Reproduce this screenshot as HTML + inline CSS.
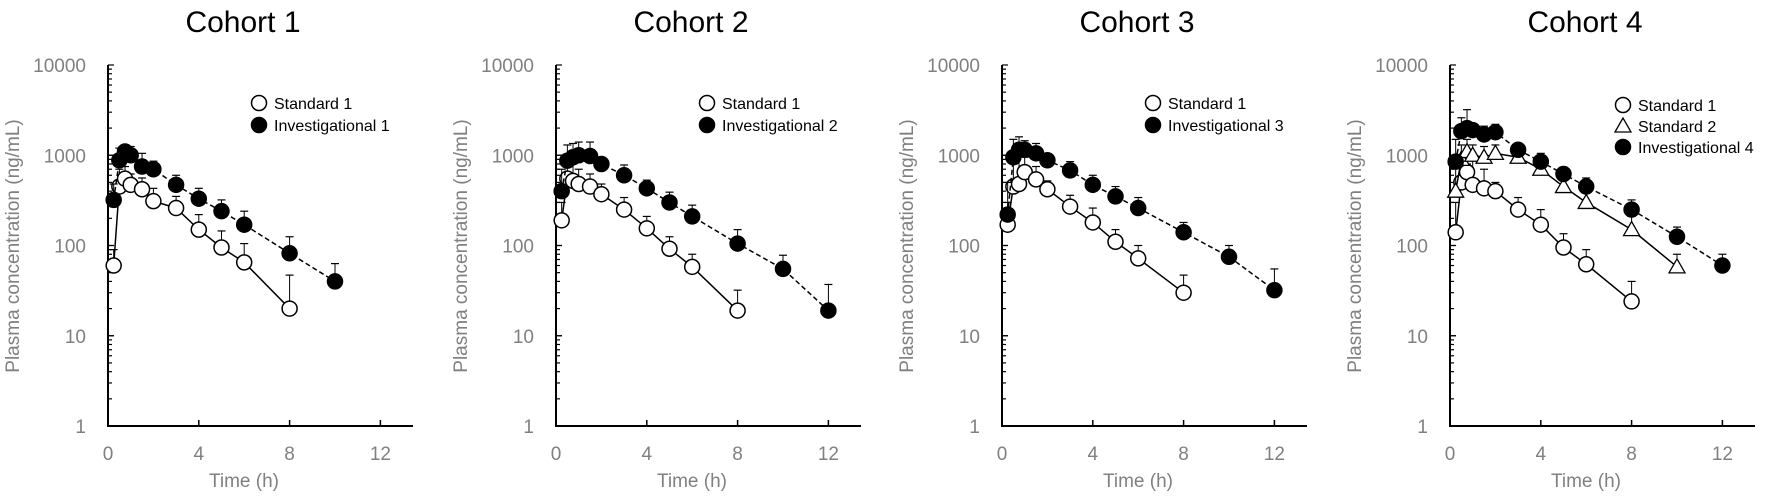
<!DOCTYPE html>
<html><head><meta charset="utf-8"><style>
html,body{margin:0;padding:0;background:#fff;}
svg{display:block;font-family:"Liberation Sans",Arial,sans-serif;}
</style></head><body>
<svg id="fig" width="1772" height="496" viewBox="0 0 1772 496"></svg>
<script>
const times = [0.25,0.5,0.75,1,1.5,2,3,4,5,6,8,10,12];
const xTicks = [0,4,8,12];
const yTicks = [1,10,100,1000,10000];
const cohortTitles = ["Cohort 1","Cohort 2","Cohort 3","Cohort 4"];
// cohort 1
const c1Std = [60,450,550,470,420,310,260,150,95,65,20];
const c1StdErr = [90,700,750,620,560,430,350,220,145,105,47];
const c1Inv = [320,880,1100,1000,750,700,470,330,240,170,82,40];
const c1InvErr = [480,1200,1300,1250,1050,860,600,430,320,240,125,63];
// cohort 2
const c2Std = [190,550,520,480,450,370,250,155,92,58,19];
const c2StdErr = [300,800,1000,700,620,480,340,210,125,80,32];
const c2Inv = [400,870,950,1000,980,800,600,430,300,210,105,55,19];
const c2InvErr = [700,1300,1350,1400,1400,950,780,530,390,280,150,78,37];
// cohort 3
const c3Std = [170,450,480,650,540,420,270,180,110,72,30];
const c3StdErr = [300,800,1000,950,750,520,360,260,150,100,47];
const c3Inv = [220,950,1150,1150,1050,880,680,470,350,260,140,75,32];
const c3InvErr = [500,1500,1600,1450,1350,1000,850,600,450,340,180,100,55];
// cohort 4
const c4Std1 = [140,500,650,470,430,400,250,170,95,62,24];
const c4Std1Err = [300,900,800,900,700,500,340,250,135,90,40];
const c4Std2 = [400,900,1100,1000,950,1050,950,700,450,300,150,58];
const c4Std2Err = [800,1300,1500,1300,1250,1300,1150,900,600,400,210,80];
const c4Inv = [850,1850,2000,1900,1700,1800,1150,850,620,450,250,125,60];
const c4InvErr = [1500,2600,3200,2200,2100,2200,1350,1050,740,560,320,160,80];

const panels = [
  {title:cohortTitles[0], series:[{n:"Standard 1",v:c1Std,e:c1StdErr,m:"open",d:false},{n:"Investigational 1",v:c1Inv,e:c1InvErr,m:"filled",d:true}]},
  {title:cohortTitles[1], series:[{n:"Standard 1",v:c2Std,e:c2StdErr,m:"open",d:false},{n:"Investigational 2",v:c2Inv,e:c2InvErr,m:"filled",d:true}]},
  {title:cohortTitles[2], series:[{n:"Standard 1",v:c3Std,e:c3StdErr,m:"open",d:false},{n:"Investigational 3",v:c3Inv,e:c3InvErr,m:"filled",d:true}]},
  {title:cohortTitles[3], series:[{n:"Standard 1",v:c4Std1,e:c4Std1Err,m:"open",d:false},{n:"Standard 2",v:c4Std2,e:c4Std2Err,m:"tri",d:false},{n:"Investigational 4",v:c4Inv,e:c4InvErr,m:"filled",d:true}]}
];
const origins = [108,556,1002,1450];
const NS = "http://www.w3.org/2000/svg";
const svg = document.getElementById("fig");
function mk(tag, attrs, parent, text){
  const el = document.createElementNS(NS, tag);
  for (const k in attrs) el.setAttribute(k, attrs[k]);
  if (text !== undefined) el.textContent = text;
  parent.appendChild(el);
  return el;
}
const yTop = 65, yBot = 426, pxH = 22.7;
function yS(v){ return yBot - (Math.log10(v)) * (yBot - yTop) / 4; }
function drawMarker(g, kind, cx, cy){
  let el;
  if (kind === "tri") {
    el = mk("polygon",{points:`${cx},${cy-8} ${cx-8},${cy+6} ${cx+8},${cy+6}`,fill:"#fff",stroke:"#000","stroke-width":1.3},g);
  } else {
    el = mk("circle",{cx:cx,cy:cy,r:7.5,fill:kind==="filled"?"#000":"#fff",stroke:"#000","stroke-width":1.5},g);
  }
  return el;
}
panels.forEach((p, pi) => {
  const ox = origins[pi];
  const xS = t => ox + t * pxH;
  const g = mk("g",{},svg);
  
  
  const title = mk("text",{x:ox+135,y:32,"font-size":30,"text-anchor":"middle",fill:"#000"},g,p.title);
  
  
  const ax = mk("path",{d:`M${ox},${yTop} V${yBot} H${ox+305}`,stroke:"#000","stroke-width":2,fill:"none"},g);
  
  
  for (let dec=0; dec<4; dec++){
    for (let k=1; k<=10; k++){
      const v = Math.pow(10,dec)*k;
      const y = yS(v);
      mk("line",{x1:ox,x2:ox+(k===1||k===10?6:4),y1:y,y2:y,stroke:"#000","stroke-width":1.2},g);
    }
  }
  yTicks.forEach(v => {
    const t = mk("text",{x:ox-22,y:yS(v)+7,"font-size":19,"text-anchor":"end",fill:"#808080"},g,String(v));
    
    
  });
  xTicks.forEach(v => {
    if (v>0) mk("line",{x1:xS(v),x2:xS(v),y1:yBot,y2:yBot-6,stroke:"#000","stroke-width":1.5},g);
    const t = mk("text",{x:xS(v),y:460,"font-size":19,"text-anchor":"middle",fill:"#808080"},g,String(v));
    
    
  });
  const xl = mk("text",{x:ox+136,y:487,"font-size":19,"text-anchor":"middle",fill:"#808080"},g,"Time (h)");
  
  
  const yl = mk("text",{x:0,y:0,"font-size":19,"text-anchor":"middle",fill:"#808080",transform:`translate(${ox-89},${246}) rotate(-90)`},g,"Plasma concentration (ng/mL)");
  
  
  p.series.forEach((s, si) => {
    const sg = mk("g",{},g);
    
    
    s.v.forEach((v,i) => {
      const x = xS(times[i]);
      mk("line",{x1:x,x2:x,y1:yS(v),y2:yS(s.e[i]),stroke:"#000","stroke-width":1},sg);
      mk("line",{x1:x-4,x2:x+4,y1:yS(s.e[i]),y2:yS(s.e[i]),stroke:"#000","stroke-width":1.2},sg);
    });
    const pts = s.v.map((v,i) => `${xS(times[i])},${yS(v)}`).join(" ");
    const ln = mk("polyline",{points:pts,fill:"none",stroke:"#000","stroke-width":1.5,"stroke-dasharray":s.d?"5,3":"none"},sg);
    
    
    s.v.forEach((v,i) => {
      const m = drawMarker(sg, s.m, xS(times[i]), yS(v));
      
      
    });
    const lx = ox + (pi===3?173:151);
    const ly = (pi===3?105:103) + si*(pi===3?21:22);
    const lg = mk("g",{},g);
    
    
    drawMarker(lg, s.m, lx, ly);
    mk("text",{x:lx+15,y:ly+6,"font-size":16,fill:"#000"},lg,s.n);
  });
});
</script>
</body></html>
